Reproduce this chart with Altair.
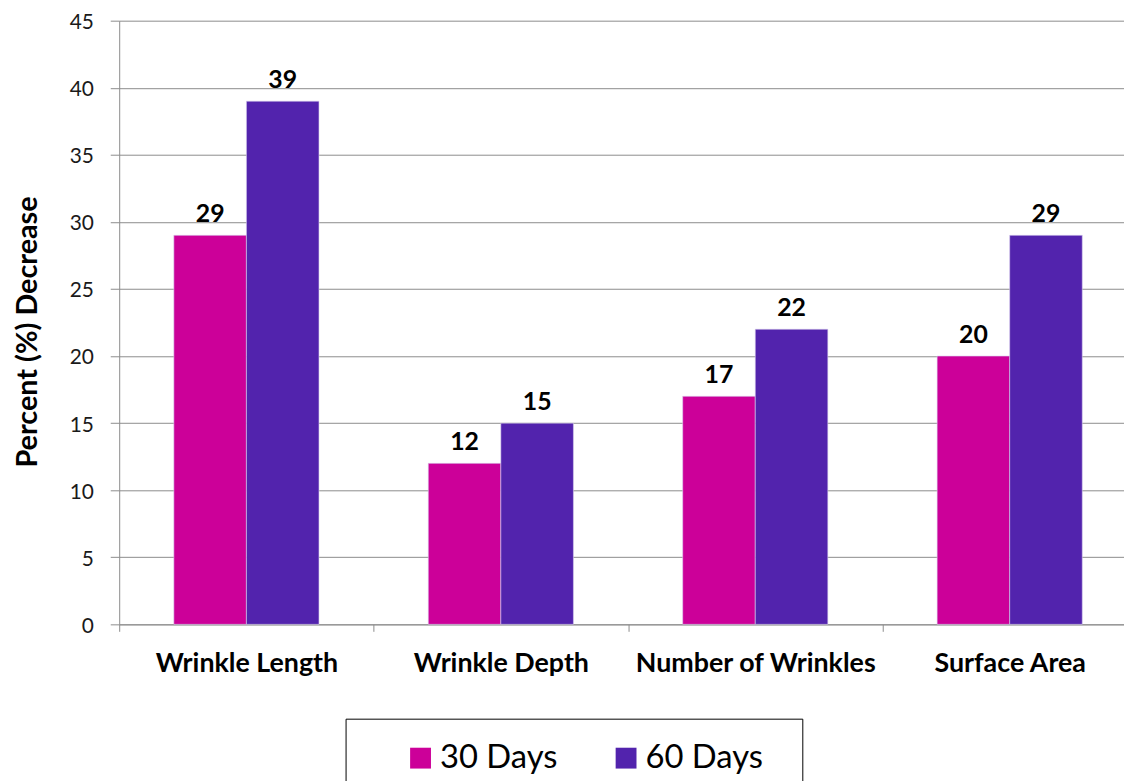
import altair as alt
import pandas as pd

categories = ["Wrinkle Length", "Wrinkle Depth", "Number of Wrinkles", "Surface Area"]
series = ["30 Days", "60 Days"]
values_30 = [29, 12, 17, 20]
values_60 = [39, 15, 22, 29]
colors = ["#CC0099", "#5223AD"]
y_ticks = [0, 5, 10, 15, 20, 25, 30, 35, 40, 45]

rows = []
for c, a, b in zip(categories, values_30, values_60):
    rows.append({"category": c, "series": series[0], "value": a})
    rows.append({"category": c, "series": series[1], "value": b})
df = pd.DataFrame(rows)

FONT = "Lato"
GRID = "#8c8c8c"

x = alt.X("category:N", sort=categories, title=None,
          scale=alt.Scale(range=[0, 1025], paddingInner=0, paddingOuter=0),
          axis=alt.Axis(labelAngle=0, labelFont=FONT, labelFontSize=27, labelFontWeight="bold",
                        labelColor="#000000", tickBand="extent", tickSize=7, tickColor=GRID,
                        domainColor=GRID, labelPadding=19, labelLimit=400))
xo = alt.XOffset("series:N", sort=series,
                 scale=alt.Scale(paddingInner=0, paddingOuter=0.753))
y = alt.Y("value:Q", title="Percent (%) Decrease",
          scale=alt.Scale(domain=[0, 45], nice=False),
          axis=alt.Axis(values=y_ticks, labelFont=FONT, labelFontSize=21, labelColor="#1a1a1a",
                        labelOffset=2,
                        tickSize=9, tickColor=GRID, domainColor=GRID, gridColor=GRID,
                        labelPadding=17, titleFont=FONT, titleFontSize=29, titleFontWeight="bold",
                        titleColor="#000000", titleX=-92, titleY=313, titleAngle=270,
                        titleAlign="center", titleBaseline="middle"))

color = alt.Color("series:N", sort=series,
                  scale=alt.Scale(domain=series, range=colors),
                  legend=alt.Legend(title="\u00a0", titleOrient="right", titlePadding=17,
                                    titleFontSize=33, titleFont=FONT,
                                    orient="none", legendX=228, legendY=703, direction="horizontal",
                                    symbolType="square", symbolSize=441, symbolStrokeWidth=0,
                                    labelFont=FONT, labelFontSize=33, labelColor="#000000",
                                    columnPadding=16, padding=23, symbolOffset=36, labelOffset=3,
                                    strokeColor="#000000", fillColor="#ffffff", labelLimit=400))

bars = alt.Chart(df).mark_bar(stroke="#d9d0ee", strokeWidth=0.6).encode(x=x, xOffset=xo, y=y, color=color)
labels = alt.Chart(df).mark_text(font=FONT, fontSize=25, fontWeight="bold", baseline="alphabetic",
                                 dy=-13, color="#000000").encode(
    x=alt.X("category:N", sort=categories),
    xOffset=alt.XOffset("series:N", sort=series),
    y="value:Q", text="value:Q")

chart = alt.layer(bars, labels).properties(
    width=1012, height=608,
    autosize=alt.AutoSizeParams(type="none"),
    padding={"left": 112, "top": 10, "right": 0, "bottom": 155},
    background="#ffffff",
).configure_view(stroke=None).configure_axis(grid=False).configure_axisY(grid=True)

chart.save("out.html", embed_options={"renderer": "svg", "actions": False})
